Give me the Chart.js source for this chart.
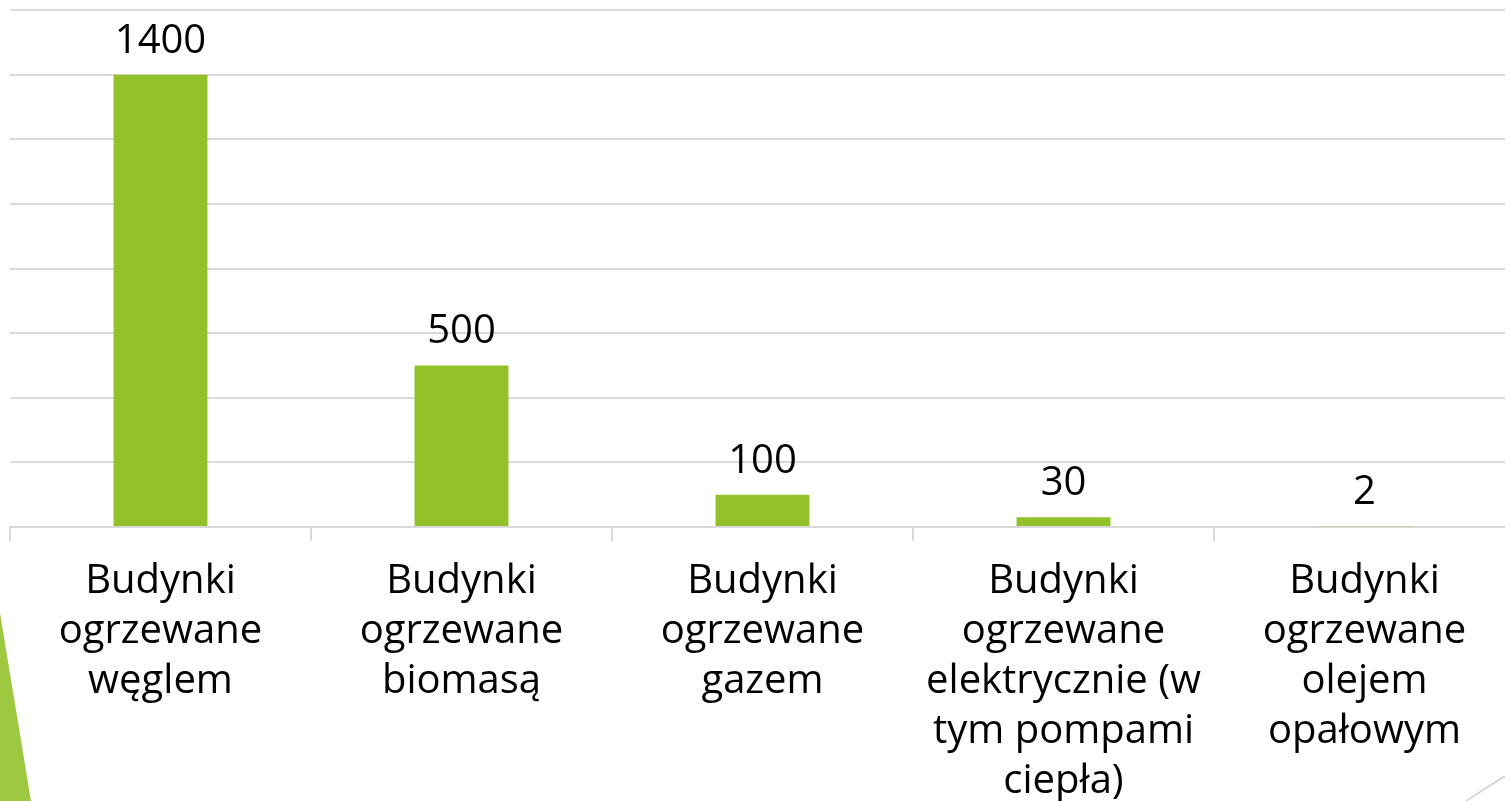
<!DOCTYPE html>
<html>
<head>
<meta charset="utf-8">
<script src="https://cdn.jsdelivr.net/npm/chart.js@4"></script>
<style>
    html, body { margin: 0; padding: 0; background: #fff; overflow: hidden; }
    #wrap { position: relative; width: 1515px; height: 801px; }
    #deco { position: absolute; left: 0; top: 0; pointer-events: none; }
</style>
</head>
<body>
<div id="wrap">
    <canvas id="barChart" width="1515" height="801"></canvas>
    <svg id="deco" width="1505" height="801">
        <polygon points="0,613 31,801 0,801" fill="#9DC83F"/>
        <line x1="1466" y1="801" x2="1505" y2="776" stroke="#D0D0D0" stroke-width="1.5"/>
    </svg>
</div>
<script>
const categories = [
    ['Budynki', 'ogrzewane', 'węglem'],
    ['Budynki', 'ogrzewane', 'biomasą'],
    ['Budynki', 'ogrzewane', 'gazem'],
    ['Budynki', 'ogrzewane', 'elektrycznie (w', 'tym pompami', 'ciepła)'],
    ['Budynki', 'ogrzewane', 'olejem', 'opałowym']
];
const values = [1400, 500, 100, 30, 2];
const yMax = 1600;
const yStep = 200;

const FONT = '"Open Sans", "DejaVu Sans", sans-serif';

// value labels above each bar
const barValueLabels = {
    id: 'barValueLabels',
    afterDatasetsDraw(chart) {
        const ctx = chart.ctx;
        const meta = chart.getDatasetMeta(0);
        ctx.save();
        ctx.font = '40px ' + FONT;
        ctx.fillStyle = '#000';
        ctx.textAlign = 'center';
        ctx.textBaseline = 'alphabetic';
        meta.data.forEach((bar, i) => {
            ctx.fillText(String(values[i]), bar.x, bar.y - 22);
        });
        ctx.restore();
    }
};

new Chart(document.getElementById('barChart').getContext('2d'), {
    type: 'bar',
    data: {
        labels: categories,
        datasets: [{
            data: values,
            backgroundColor: '#92C12A',
            categoryPercentage: 0.312,
            barPercentage: 1
        }]
    },
    options: {
        responsive: false,
        animation: false,
        layout: { padding: { left: 10, top: 10, right: 0, bottom: 0 } },
        plugins: { legend: { display: false }, tooltip: { enabled: false } },
        scales: {
            x: {
                afterFit(scale) { scale.height = 274; },
                border: { color: '#D9D9D9', width: 2 },
                grid: {
                    offset: true,
                    drawOnChartArea: false,
                    drawTicks: true,
                    tickLength: 14,
                    tickColor: '#D9D9D9',
                    lineWidth: 2
                },
                ticks: {
                    autoSkip: false,
                    maxRotation: 0,
                    minRotation: 0,
                    padding: 16,
                    color: '#000',
                    font: { family: FONT, size: 40, lineHeight: 1.25 }
                }
            },
            y: {
                min: 0,
                max: yMax,
                afterFit(scale) { scale.width = 0; },
                border: { display: false },
                grid: { color: '#D9D9D9', lineWidth: 2, drawTicks: false },
                ticks: { display: false, stepSize: yStep }
            }
        }
    },
    plugins: [barValueLabels]
});
</script>
</body>
</html>
